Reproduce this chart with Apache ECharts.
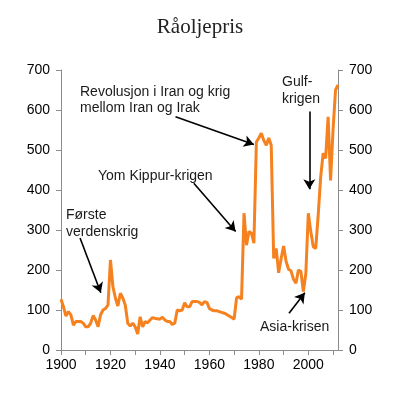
<!DOCTYPE html>
<html>
<head>
<meta charset="utf-8">
<script src="https://cdn.jsdelivr.net/npm/echarts@6/dist/echarts.min.js"></script>
<style>
  html, body { margin: 0; padding: 0; background: #fff; }
  #chart { width: 400px; height: 398px; }
</style>
</head>
<body>
<div id="chart"></div>
<script>
// crude oil price, 1900-2012
var startYear = 1900
var prices = [
  127, 108, 85, 96, 88, 62, 71, 71, 71, 67, // 1900-
  58, 58, 67, 86, 75, 58, 88, 100, 104, 112, // 1910-
  225, 158, 130, 110, 142, 130, 112, 67, 60, 67, // 1920-
  58, 40, 83, 58, 71, 68, 75, 81, 79, 78, // 1930-
  77, 82, 75, 71, 71, 64, 67, 100, 98, 100, // 1940-
  118, 108, 108, 121, 121, 121, 119, 113, 121, 119, // 1950-
  104, 100, 98, 98, 96, 94, 92, 89, 85, 81, // 1960-
  77, 131, 133, 127, 342, 262, 296, 292, 267, 520, // 1970-
  530, 542, 524, 512, 530, 512, 229, 254, 193, 228, // 1980-
  260, 222, 202, 198, 177, 167, 200, 196, 146, 192, // 1990-
  342, 296, 258, 254, 338, 433, 492, 479, 583, 424, // 2000-
  550, 650, 663 // 2010-
]
var yTicks = [0, 100, 200, 300, 400, 500, 600, 700]
var xLabels = [1900, 1920, 1940, 1960, 1980, 2000]

// annotation arrows: [fromYear, fromValue, toYear, toValue]
var arrows = [
  [1907.7, 280, 1916.1, 143],
  [1953.7, 417, 1970.6, 296],
  [1946.3, 583, 1978.0, 514],
  [2000.4, 596, 2000.4, 402],
  [1992.2, 92, 1998.6, 143]
]

var seriesData = []
for (var i = 0; i < prices.length; i++) {
  seriesData.push([startYear + i, prices[i]])
}

var chart = echarts.init(document.getElementById('chart'))

var axisGray = '#8c8c8c'
var labelFont = { color: '#000', fontSize: 14, fontFamily: 'Liberation Sans, Arial, sans-serif' }

function yAxisOpt (pos) {
  return {
    type: 'value',
    position: pos,
    min: yTicks[0],
    max: yTicks[yTicks.length - 1],
    interval: 100,
    axisLine: { show: true, lineStyle: { color: axisGray, width: 1 } },
    axisTick: { show: true, length: 5, lineStyle: { color: axisGray } },
    splitLine: { show: false },
    axisLabel: Object.assign({ margin: 11 }, labelFont)
  }
}

function note (x, y, text) {
  return {
    type: 'text',
    x: x,
    y: y,
    style: {
      text: text,
      font: '14px "Liberation Sans", Arial, sans-serif',
      fill: '#1a1a1a',
      textVerticalAlign: 'middle'
    }
  }
}

chart.setOption({
  animation: false,
  title: {
    text: 'Råoljepris',
    left: 'center',
    top: 12,
    textStyle: {
      fontFamily: 'Liberation Serif, Times New Roman, serif',
      fontWeight: 'normal',
      fontSize: 21,
      color: '#222'
    }
  },
  grid: { left: 61, right: 62, top: 70, bottom: 48 },
  xAxis: {
    type: 'value',
    min: 1900,
    max: 2012,
    interval: 10,
    axisLine: { show: true, onZero: false, lineStyle: { color: axisGray } },
    axisTick: { show: true, length: 5, lineStyle: { color: axisGray } },
    splitLine: { show: false },
    axisLabel: Object.assign({
      margin: 8,
      showMaxLabel: false,
      formatter: function (v) {
        return xLabels.indexOf(v) >= 0 ? String(v) : ''
      }
    }, labelFont)
  },
  yAxis: [yAxisOpt('left'), yAxisOpt('right')],
  series: [
    {
      type: 'line',
      data: seriesData,
      symbol: 'none',
      lineStyle: { color: '#F5821F', width: 3 },
      markLine: {
        silent: true,
        symbol: ['none', 'arrow'],
        symbolSize: [9, 10],
        label: { show: false },
        lineStyle: { color: '#000', width: 1.6, type: 'solid' },
        data: arrows.map(function (a) {
          return [{ coord: [a[0], a[1]] }, { coord: [a[2], a[3]] }]
        })
      }
    },
    {
      type: 'line',
      yAxisIndex: 1,
      data: [],
      symbol: 'none'
    }
  ],
  graphic: [
    note(66, 215, 'Første'),
    note(66, 232, 'verdenskrig'),
    note(98, 176, 'Yom Kippur-krigen'),
    note(80, 92, 'Revolusjon i Iran og krig'),
    note(80, 108, 'mellom Iran og Irak'),
    note(282, 82, 'Gulf-'),
    note(282, 99, 'krigen'),
    note(260, 327, 'Asia-krisen')
  ]
})
</script>
</body>
</html>
